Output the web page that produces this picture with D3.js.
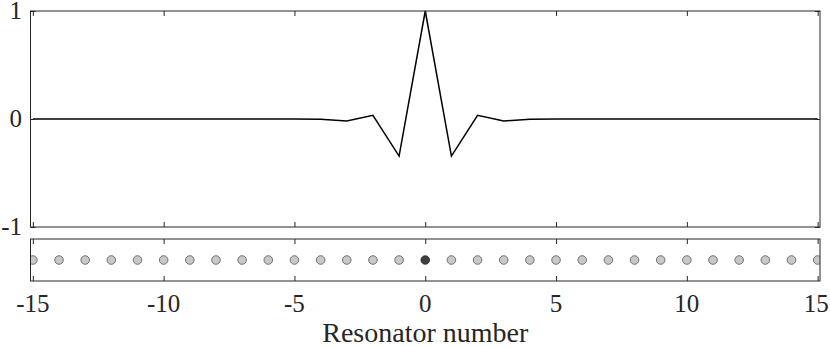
<!DOCTYPE html>
<html>
<head>
<meta charset="utf-8">
<script src="https://cdn.jsdelivr.net/npm/d3@7"></script>
<style>
  body { margin: 0; background: #fff; }
</style>
</head>
<body>
<div id="chart"></div>
<script>
// Resonator indices and mode amplitude
const resonators = d3.range(-15, 16);
const amplitude = [0, 0, 0, 0, 0, 0, 0, 0, 0, 0, 0, -0.003, -0.018, 0.034, -0.343, 1,
                   -0.343, 0.034, -0.018, -0.003, 0, 0, 0, 0, 0, 0, 0, 0, 0, 0, 0];
const excited = 0; // dark resonator
const xTicks = [-15, -10, -5, 0, 5, 10, 15];
const yTicks = [-1, 0, 1];

const width = 830, height = 347;
const left = 30.5, right = 820;
const topBox = { y0: 11, y1: 227 };
const botBox = { y0: 239, y1: 281 };
const serif = "Liberation Serif";

const svg = d3.select("#chart").append("svg")
    .attr("width", width)
    .attr("height", height);

const x = d3.scaleLinear().domain([-15.09, 15.09]).range([left, right]);
const y = d3.scaleLinear().domain([-1, 1]).range([topBox.y1, topBox.y0]);

// clip for the lower panel
svg.append("clipPath").attr("id", "clipBot")
    .append("rect")
    .attr("x", left).attr("y", botBox.y0)
    .attr("width", right - left).attr("height", botBox.y1 - botBox.y0);

// mode line
svg.append("path")
    .datum(resonators.map((r, i) => [r, amplitude[i]]))
    .attr("fill", "none")
    .attr("stroke", "#000")
    .attr("stroke-width", 1.5)
    .attr("d", d3.line().x(d => x(d[0])).y(d => y(d[1])));

// resonator dots
svg.append("g").attr("clip-path", "url(#clipBot)")
  .selectAll("circle")
  .data(resonators)
  .enter().append("circle")
    .attr("cx", d => x(d))
    .attr("cy", (botBox.y0 + botBox.y1) / 2)
    .attr("r", 4.3)
    .attr("fill", d => d === excited ? "#404040" : "#c8c8c8")
    .attr("stroke", d => d === excited ? "#262626" : "#555")
    .attr("stroke-width", 0.8);

// boxes
[topBox, botBox].forEach(b => {
  svg.append("rect")
    .attr("x", left).attr("y", b.y0)
    .attr("width", right - left).attr("height", b.y1 - b.y0)
    .attr("fill", "none")
    .attr("stroke", "#262626")
    .attr("stroke-width", 1);
});

// x ticks (inward, both panels, top and bottom)
const tickLen = 5;
[topBox, botBox].forEach(b => {
  svg.append("g").attr("transform", `translate(0,${b.y1})`)
    .call(d3.axisBottom(x).tickValues(xTicks).tickSizeInner(-tickLen).tickSizeOuter(0).tickFormat(""))
    .call(g => g.select(".domain").remove())
    .selectAll("line").attr("stroke", "#262626");
  svg.append("g").attr("transform", `translate(0,${b.y0})`)
    .call(d3.axisTop(x).tickValues(xTicks).tickSizeInner(-tickLen).tickSizeOuter(0).tickFormat(""))
    .call(g => g.select(".domain").remove())
    .selectAll("line").attr("stroke", "#262626");
});

// y ticks on top panel
svg.append("g").attr("transform", `translate(${left},0)`)
  .call(d3.axisLeft(y).tickValues(yTicks).tickSizeInner(-tickLen).tickSizeOuter(0).tickFormat(""))
  .call(g => g.select(".domain").remove())
  .selectAll("line").attr("stroke", "#262626");
svg.append("g").attr("transform", `translate(${right},0)`)
  .call(d3.axisRight(y).tickValues(yTicks).tickSizeInner(-tickLen).tickSizeOuter(0).tickFormat(""))
  .call(g => g.select(".domain").remove())
  .selectAll("line").attr("stroke", "#262626");

// tick labels
svg.append("g").selectAll("text")
  .data(xTicks)
  .enter().append("text")
    .attr("x", d => x(d))
    .attr("y", 312)
    .attr("text-anchor", d => d === 15 ? "end" : "middle")
    .attr("dx", d => d === 15 ? 11 : 0)
    .style("font-family", serif)
    .attr("font-size", 25)
    .attr("fill", "#262626")
    .text(d => d < 0 ? "-" + Math.abs(d) : d);

svg.append("g").selectAll("text")
  .data(yTicks)
  .enter().append("text")
    .attr("x", 22)
    .attr("y", d => y(d) + 7.5)
    .attr("text-anchor", "end")
    .style("font-family", serif)
    .attr("font-size", 25)
    .attr("fill", "#262626")
    .text(d => d < 0 ? "-" + Math.abs(d) : d);

svg.append("text")
  .attr("x", x(0))
  .attr("y", 342)
  .attr("text-anchor", "middle")
  .style("font-family", serif)
  .attr("font-size", 28)
  .attr("fill", "#262626")
  .text("Resonator number");
</script>
</body>
</html>
